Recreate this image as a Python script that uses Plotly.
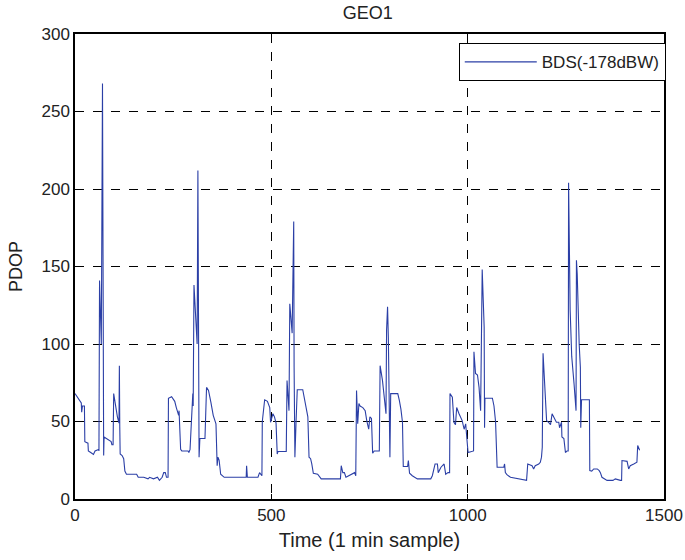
import plotly.graph_objects as go

time_min = [0, 5, 12, 16, 17, 19, 24, 25, 33, 34, 40, 45, 47, 51, 60, 61, 62.5, 65, 67, 70, 71.5, 73, 74, 85, 92, 94, 97, 98.5, 101, 104, 108, 112, 113, 114, 115, 120, 124, 127, 131, 157, 161, 175, 186, 190, 200, 210, 215, 222, 226, 230, 233, 237,
            238, 246, 254, 258, 262, 264, 265, 267, 269, 272, 288, 290, 293, 300, 301, 303, 307, 311, 313, 315, 316, 318, 331, 335, 340, 346, 352, 359, 360, 362, 364, 367, 371, 380, 436, 437, 439, 466, 470, 474, 476,
            477, 483, 490, 496, 498, 504, 508, 512, 515, 517, 538, 540, 545, 547, 553, 557, 558, 560, 563, 566, 580, 585, 593, 596, 600, 603, 607, 618, 627, 665, 676, 678, 682, 686, 690, 712, 715,
            717, 720, 723, 726, 733, 739, 743, 748, 751, 755, 758, 762, 775, 777, 783, 788, 792, 793.5, 796, 798, 800, 802, 804, 822, 826, 830, 834, 836, 847, 849, 852, 859, 872, 906, 910, 917, 923, 925, 932, 940, 944, 950, 954,
            955, 961, 965, 969, 972, 978, 986, 991, 995, 997, 1001, 1015,
            1016, 1020, 1025, 1029, 1033, 1037, 1040, 1042, 1043, 1044, 1063, 1067, 1071, 1075, 1092, 1094, 1096, 1100, 1109, 1126, 1147, 1150, 1153, 1164, 1168, 1172, 1181, 1185, 1188, 1190,
            1192, 1197, 1201, 1206, 1211, 1215, 1220, 1226, 1232, 1234, 1239, 1240, 1245, 1249, 1253, 1256,
            1257, 1259, 1261, 1265, 1268, 1271, 1276, 1277, 1279, 1281, 1284, 1287, 1288, 1290, 1310, 1311, 1316, 1321, 1330, 1335, 1338, 1342, 1347, 1355, 1370, 1376, 1389, 1392, 1393, 1406, 1410, 1414, 1423, 1431, 1433, 1436, 1437, 1438]

pdop = [68, 66, 63, 62, 56, 60, 60, 37, 36, 31, 30, 29, 28.7, 31, 32, 31, 141, 118, 100, 268, 28, 28, 40, 38, 37, 35, 35, 68, 64, 58, 53, 49, 86, 47, 29, 28, 26, 18, 16, 16, 14, 14, 13, 14, 13, 14, 12, 14, 17, 17, 14, 14,
        65, 66, 63, 59, 56, 54, 57, 37, 32, 31, 31, 30, 32, 68, 60, 138, 117, 100, 212, 91, 27, 39, 39, 72, 70, 62.5, 54, 48.5, 27, 21.5, 27, 25, 16, 14, 14, 21.5, 14, 14, 17, 15, 15,
        50, 64, 63, 59, 49.5, 55, 53, 49, 29, 30.6, 30.6, 76.5, 57, 126, 107, 179, 85, 27, 50, 70.5, 70.5, 63.6, 53, 27, 26, 22.6, 16.6, 16, 13, 13, 13, 21.5, 17, 17, 14, 17, 15,
        70, 48.5, 61.6, 60, 59, 57, 50.6, 45, 53, 52, 29.5, 31, 31, 86, 76.5, 62.5, 55, 109, 124, 104, 44, 27, 68, 68, 63.6, 58, 49.5, 21, 21, 24.8, 16.6, 15, 13, 13, 15, 22.6, 22.6, 17, 20.5, 22.6, 16, 17, 17,
        68, 65.7, 49.5, 48, 59, 55, 50.6, 45, 48.5, 42, 30, 31,
        95, 81, 80, 72, 57, 148, 117.5, 111, 46, 65, 65, 60, 50, 20.5, 20.5, 22.6, 17, 15.7, 14, 13, 12, 12, 22.6, 21.5, 19.4, 21.5, 22.6, 23.7, 27, 33.4,
        94, 63.6, 50.6, 49.5, 48, 55, 52.8, 49.5, 49.5, 46, 49.5, 40, 39, 30, 31, 31,
        204, 160, 122, 92, 80, 74, 57, 154, 145, 125, 100, 85, 46, 64, 64, 18.3, 18, 19.4, 19.4, 18.3, 17, 14, 13, 12, 12, 13, 12, 12, 24.8, 24.3, 19.4, 21.5, 22.6, 23.7, 34.5, 32.3, 33, 31.5]

series_name = "BDS(-178dBW)"
x_ticks = [0, 500, 1000, 1500]
y_ticks = [0, 50, 100, 150, 200, 250, 300]

FONT = "Liberation Sans, Arial, sans-serif"
TXT = "#222"

fig = go.Figure()
fig.add_trace(go.Scatter(x=time_min, y=pdop, mode="lines", name=series_name,
                         line=dict(color="#2b3fa6", width=1.1)))

axis_common = dict(showline=True, linecolor="black", linewidth=1.5, mirror=True,
                   showgrid=True, gridcolor="black", griddash="dash", gridwidth=1,
                   ticks="inside", ticklen=5, tickcolor="black", zeroline=False,
                   automargin=False,
                   tickfont=dict(family=FONT, size=17, color=TXT))

fig.update_layout(
    width=685, height=560,
    margin=dict(l=75, r=21, t=34, b=61, autoexpand=False),
    paper_bgcolor="white", plot_bgcolor="white",
    title=dict(text="GEO1", x=0.537, xanchor="center", y=0.978, yanchor="middle",
               font=dict(family=FONT, size=18, color=TXT)),
    xaxis=dict(range=[0, 1500], tickvals=x_ticks, title=dict(text="Time (1 min sample)", standoff=9,
               font=dict(family=FONT, size=20, color=TXT)), **axis_common),
    yaxis=dict(range=[0, 300], tickvals=y_ticks, title=dict(text="PDOP", standoff=14,
               font=dict(family=FONT, size=18, color=TXT)), **axis_common),
    legend=dict(x=1.003, y=0.98, xanchor="right", yanchor="top",
                bgcolor="white", bordercolor="black", borderwidth=1,
                font=dict(family=FONT, size=17, color=TXT), itemwidth=72,
                tracegroupgap=0),
    showlegend=True,
)

fig.write_html("out.html")
